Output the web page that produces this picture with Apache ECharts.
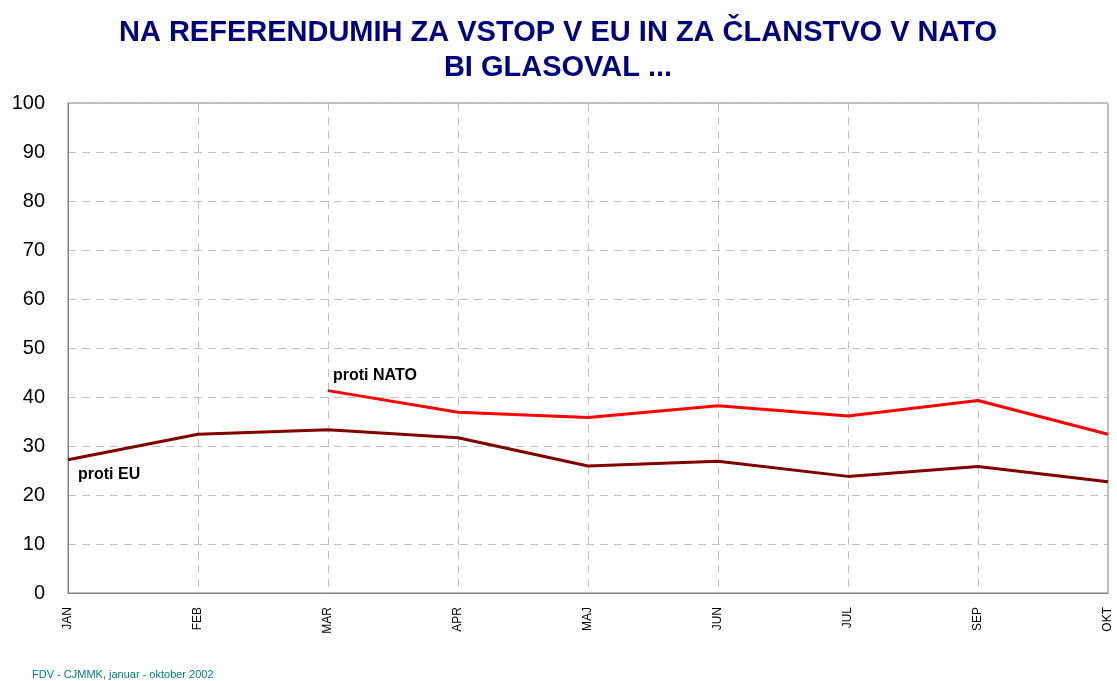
<!DOCTYPE html>
<html>
<head>
<meta charset="utf-8">
<script src="https://cdn.jsdelivr.net/npm/echarts@6/dist/echarts.min.js"></script>
<style>
  html, body { margin: 0; padding: 0; background: #fff; }
  #chart { width: 1117px; height: 681px; }
</style>
</head>
<body>
<div id="chart"></div>
<script>
const months = [ 'JAN', 'FEB', 'MAR', 'APR', 'MAJ', 'JUN', 'JUL', 'SEP', 'OKT' ];
const protiEU = [ 27.2, 32.4, 33.3, 31.7, 25.9, 26.9, 23.8, 25.8, 22.7 ];
const protiNATO = [ null, null, 41.3, 36.9, 35.8, 38.2, 36.1, 39.3, 32.4 ];

const chart = echarts.init( document.getElementById( 'chart' ) );

// etiketa na prvi točki serije
function withLabel ( values, text, position, offset ) {
  const first = values.findIndex( ( v ) => v !== null );
  return values.map( ( v, i ) => i === first ? {
    value: v,
    label: {
      show: true, formatter: text, position: position, offset: offset,
      align: 'left', fontFamily: 'Arial, Liberation Sans', fontWeight: 'bold', fontSize: 16, color: '#000'
    }
  } : v );
}

chart.setOption( {
  animation: false,
  title: {
    text: 'NA REFERENDUMIH ZA VSTOP V EU IN ZA ČLANSTVO V NATO\nBI GLASOVAL ...',
    left: 553,
    top: 10,
    textAlign: 'center',
    textStyle: {
      fontFamily: 'Arial, Liberation Sans',
      fontWeight: 'bold',
      fontSize: 29,
      color: '#000080',
      lineHeight: 35
    }
  },
  graphic: [ {
    type: 'text',
    left: 32,
    top: 669,
    style: { text: 'FDV - CJMMK, januar - oktober 2002', fill: '#008080', font: '11px Arial, Liberation Sans' }
  } ],
  grid: {
    left: 68, right: 9, top: 103, bottom: 88,
    show: true, borderColor: '#808080', borderWidth: 1
  },
  xAxis: {
    type: 'category',
    data: months,
    boundaryGap: false,
    axisLine: { lineStyle: { color: '#808080' } },
    axisTick: { show: false },
    axisLabel: { rotate: 90, fontSize: 12, color: '#000', fontFamily: 'Arial, Liberation Sans', margin: 14, interval: 0 },
    splitLine: { show: true, lineStyle: { color: '#c0c0c0', type: [ 8, 6 ] } }
  },
  yAxis: {
    type: 'value',
    min: 0, max: 100, interval: 10,
    axisLine: { show: true, lineStyle: { color: '#808080' } },
    axisTick: { show: false },
    axisLabel: { fontSize: 20, color: '#000', fontFamily: 'Arial, Liberation Sans', margin: 23 },
    splitLine: { lineStyle: { color: '#c0c0c0', type: [ 8, 6 ] } }
  },
  series: [
    {
      name: 'proti EU',
      type: 'line',
      data: withLabel( protiEU, 'proti EU', 'bottom', [ 10, 2 ] ),
      symbol: 'circle',
      symbolSize: 0,
      lineStyle: { color: '#800000', width: 3 },
      itemStyle: { color: '#800000' }
    },
    {
      name: 'proti NATO',
      type: 'line',
      data: withLabel( protiNATO, 'proti NATO', 'top', [ 5, -2 ] ),
      symbol: 'circle',
      symbolSize: 0,
      lineStyle: { color: '#ff0000', width: 3 },
      itemStyle: { color: '#ff0000' }
    }
  ]
} );
</script>
</body>
</html>
